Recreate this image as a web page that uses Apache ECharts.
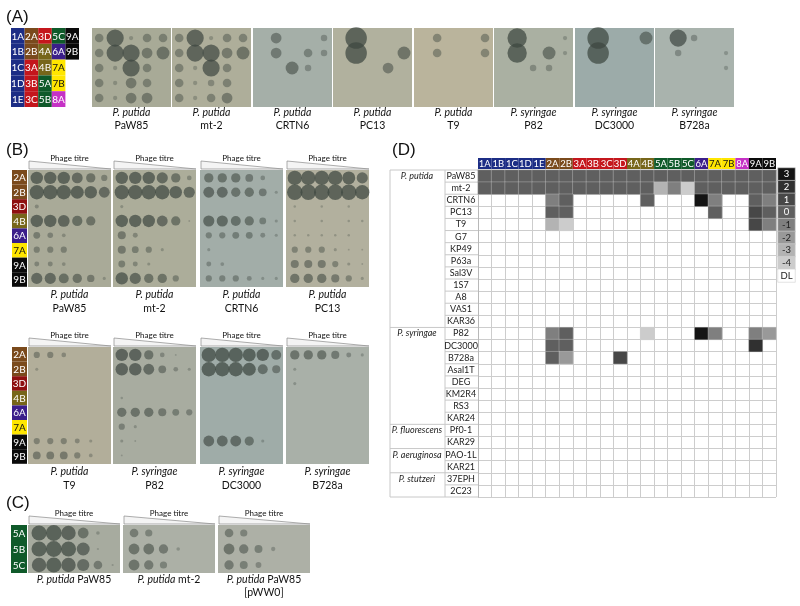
<!DOCTYPE html>
<html>
<head>
<meta charset="UTF-8">
<style>html,body{margin:0;padding:0;background:#fff}#main{width:800px;height:606px}</style>
</head>
<body>
<div id="main"></div>
<script src="https://cdn.jsdelivr.net/npm/echarts@6/dist/echarts.min.js"></script>
<script>
var n = null;
// ---- panel D data ----
var phages = ['1A','1B','1C','1D','1E','2A','2B','3A','3B','3C','3D','4A','4B','5A','5B','5C','6A','7A','7B','8A','9A','9B'];
var strains = ['PaW85','mt-2','CRTN6','PC13','T9','G7','KP49','P63a','Sal3V','1S7','A8','VAS1','KAR36',
  'P82','DC3000','B728a','Asal1T','DEG','KM2R4','RS3','KAR24','Pf0-1','KAR29','PAO-1L','KAR21','37EPH','2C23'];
var speciesNames = ['P. putida','P. syringae','P. fluorescens','P. aeruginosa','P. stutzeri'];
var speciesRows = [0,13,21,23,25];
var eopPaW85  = [0,0,0,0,0,0,0,0,0,0,0,0,0,0,0,0,0,0,0,0,0,0];
var eopMt2    = [0,0,0,0,0,0,0,0,0,0,0,0,0,-3,-1,-4,0,0,0,0,0,0];
var eopCRTN6  = [n,n,n,n,n,-1,0,n,n,n,n,n,0,n,n,n,3,-1,n,n,0,-1];
var eopPC13   = [n,n,n,n,n,0,0,n,n,n,n,n,n,n,n,n,n,0,n,n,1,0];
var eopT9     = [n,n,n,n,n,-3,-4,n,n,n,n,n,n,n,n,n,n,n,n,n,1,-1];
var eopP82    = [n,n,n,n,n,-1,0,n,n,n,n,n,-4,n,n,n,3,-1,n,n,-1,-2];
var eopDC3000 = [n,n,n,n,n,0,0,n,n,n,n,n,n,n,n,n,n,n,n,n,2,n];
var eopB728a  = [n,n,n,n,n,0,-2,n,n,n,1,n,n,n,n,n,n,n,n,n,n,n];
var eopByStrain = {'PaW85':eopPaW85,'mt-2':eopMt2,'CRTN6':eopCRTN6,'PC13':eopPC13,'T9':eopT9,'P82':eopP82,'DC3000':eopDC3000,'B728a':eopB728a};
var legendLabels = ['3','2','1','0','-1','-2','-3','-4','DL'];
var legendValues = [3,2,1,0,-1,-2,-3,-4,-5];
var levelColors  = ['#141414','#303030','#474747','#5f5f5f','#7f7f7f','#999999','#b3b3b3','#cccccc','#ffffff'];

// ---- panel A data ----
var keyA = [['1A','2A','3D','5C','9A'],['1B','2B','4A','6A','9B'],['1C','3A','4B','7A',''],['1D','3B','5A','7B',''],['1E','3C','5B','8A','']];
var plateA = ['PaW85','mt-2','CRTN6','PC13','T9','P82','DC3000','B728a'];
var plateASpecies = ['P. putida','P. putida','P. putida','P. putida','P. putida','P. syringae','P. syringae','P. syringae'];
var plateABg = ['#a8aa97','#aeae9a','#a5afa8','#b1b19e','#bab49c','#aab0a2','#9caba9','#a9b3ad'];
var spotsA = [
  [[2,4,1,2,2],[2,4,4,2.5,3],[2,1,4,2,0],[2,1,2.5,2,0],[2,1,2.5,2.5,0]],
  [[2,4,1,2,2],[2,4,4,2.5,3],[2,1,4,2,0],[2,1,1.5,2,0],[2,1,2,2.5,0]],
  [[0,2.5,0,0,1.5],[0,2.5,0,2,1.5],[0,0,3,1.5,0],[0,0,0,0,0],[0,0,0,0,0]],
  [[0,5,0,0,0],[0,5,0,0,3],[0,0,0,2.5,0],[0,0,0,0,0],[0,0,0,0,0]],
  [[0,2,0,0,2],[0,2,0,0,2],[0,0,0,0,0],[0,0,0,0,0],[0,0,0,0,0]],
  [[0,4.5,0,0,1],[0,4.5,0,3,1],[0,0,1.5,1.5,0],[0,0,0,0,0],[0,0,0,0,0]],
  [[0,5,0,0,3],[0,5,0,0,0],[0,0,0,0,0],[0,0,0,0,0],[0,0,0,0,0]],
  [[0,4,1.5,0,0],[0,1.5,0,0,1],[0,0,0,0,1],[0,0,0,0,0],[0,0,0,0,0]]
];

// ---- panel B data ----
var keyB = ['2A','2B','3D','4B','6A','7A','9A','9B'];
var plateB = ['PaW85','mt-2','CRTN6','PC13','T9','P82','DC3000','B728a'];
var plateBSpecies = ['P. putida','P. putida','P. putida','P. putida','P. putida','P. syringae','P. syringae','P. syringae'];
var plateBBg = ['#a9aa98','#acad9a','#a2ada8','#b2b09e','#b2ae9a','#a8aca0','#9faca8','#a9b0a8'];
var z6 = [0,0,0,0,0,0];
var spotsB = [
  [[4,4,4,3.5,3,2],[4.6,4.6,4.6,4.2,4,3.5],[1.3,0,0,0,0,0],[4,4,3.8,3.3,3,0],[2.2,1.8,1.2,0,0,0],[2,2,2,0,0,0],[1.6,1.6,1.2,0,0,0],[3.6,3.6,3.2,3,2.4,1]],
  [[4,4,4,3.6,3,1.5],[4.6,4.6,4.6,4.6,4,3.6],[1,0,0,0,0,0],[4,4,4,3.5,3,0.6],[2.6,1.6,0,0,0,0],[2.6,2.2,2,1,0,0],[2.2,1.6,1,0,0,0],[4,3.6,3,3,2,0]],
  [[3,3,3,2.5,1.5,0],[3.5,3.5,3,3,2.5,1],z6,[3.6,3.6,3.2,3,2.2,1],[2,2,2.2,2.2,1.6,1],[1,0,0,0,0,0],[1.6,1.2,0,0,0,0],[2,2,2,1.6,1,1]],
  [[4.6,4.6,4.6,4.6,4.2,3.6],[5,5,5,5,5,4.6],[0.8,0,0.8,0,0.8,0],[0.8,0,0.8,0,0.8,0.8],[0.8,0.8,0.8,0.8,0.8,0],[2,2,2,1,0.6,0.6],[2.6,2.6,2.6,2,1,0.6],[3,3,3,2.6,2,1]],
  [[2,2,1.5,0,0,0],[1,0,0,0,0,0],z6,z6,z6,z6,[2,2,2,1.6,1,0],[2.5,2.5,2.5,2,1.2,0]],
  [[4,4,3,1.5,0.6,0],[4,4,3.5,2.5,1.5,1],z6,[0.8,0,0,0,0,0],[3,3,3,2.6,2.2,2],[2,1,0,0,0,0],[1,0.6,0,0,0,0],[0.6,0,0,0,0,0]],
  [[4.6,4.6,4.6,4.2,4,3.2],[4.6,4.6,4.6,4.2,3.2,2.6],z6,z6,z6,z6,[3.5,3.5,3.5,3,1,0],z6],
  [[3,3,3,2.6,1.6,1],[1,0,0,0,0,0],[1,0,0,0,0,0],z6,z6,z6,z6,z6]
];

// ---- panel C data ----
var keyC = ['5A','5B','5C'];
var plateC = ['PaW85','mt-2','PaW85'];
var plateCBg = ['#a7ab9f','#acb0a6','#adb0a6'];
var spotsC = [
  [[4.2,4.4,4,3,1,0],[4.2,4.4,4.2,3.6,0.6,0],[4,4.2,4,3.4,2.4,0.6]],
  [[2.4,2,0,0,0,0],[3,3,2.6,1,0,0],[3,2.6,2,0,0,0]],
  [[2.4,2,0,0,0,0],[3,2.6,2.2,1.2,0,0],[2.6,2.2,1.6,0,0,0]]
];

var groupColors = {'1':'#1c2d85','2':'#7a4a1c','3':'#c4161c','4':'#77661a','5':'#0f5a2a','6':'#3b1e8a','7':'#ffe600','8':'#c531c5','9':'#0a0a0a'};
var groupText = function (g) { return g === '7' ? '#111' : '#fff'; };
var FONT = 'Lato';

var chart = echarts.init(document.getElementById('main'));
var grids = [], xAxes = [], yAxes = [], series = [], graphics = [];

function text(x, y, str, opt) {
  opt = opt || {};
  graphics.push({type:'text', x:x, y:y, silent:true, style:{text:str, fontFamily:opt.font || FONT,
    fontSize:opt.size || 10.5, fontStyle:opt.italic ? 'italic' : 'normal', fill:opt.color || '#111',
    align:opt.align || 'center', verticalAlign:'middle', rich:opt.rich}});
}
function rect(x, y, w, h, fill, stroke) {
  graphics.push({type:'rect', silent:true, shape:{x:x, y:y, width:w, height:h},
    style:{fill:fill, stroke:stroke || null, lineWidth:stroke ? 0.6 : 0}});
}
function line(x1, y1, x2, y2, color) {
  graphics.push({type:'line', silent:true, shape:{x1:x1, y1:y1, x2:x2, y2:y2}, style:{stroke:color || '#c8c8c8', lineWidth:1}});
}
function keyCell(x, y, w, h, label, dark3) {
  if (!label) return;
  var g = label[0];
  var c = (dark3 && label === '3D') ? '#8e1010' : groupColors[g];
  rect(x, y, w, h, c);
  text(x + w / 2, y + h / 2 + 0.5, label, {size:10, color:groupText(g)});
}
function addPlate(box, xr, yr, spots, bg, scale) {
  var g = grids.length;
  grids.push({left:box[0], top:box[1], width:box[2], height:box[3], show:true, backgroundColor:bg, borderWidth:0});
  xAxes.push({type:'value', gridIndex:g, min:xr[0], max:xr[1], show:false});
  yAxes.push({type:'value', gridIndex:g, min:yr[0], max:yr[1], inverse:true, show:false});
  var data = [];
  spots.forEach(function (row, r) {
    row.forEach(function (s, c) {
      if (s > 0) data.push({value:[c, r, s], itemStyle:{opacity:Math.min(0.72, 0.18 + 0.13 * s)}});
    });
  });
  series.push({type:'scatter', xAxisIndex:g, yAxisIndex:g, silent:true, data:data,
    symbolSize:function (d) { return d[2] * scale; }, itemStyle:{color:'#3d4640'}});
}
function titre(x, top, w) {
  text(x + w / 2, top - 12, 'Phage titre', {size:8});
  graphics.push({type:'polygon', silent:true, shape:{points:[[x + 1, top - 9], [x + w, top - 1], [x + 1, top - 1]]},
    style:{fill:'#f4f4f4', stroke:'#8a8a8a', lineWidth:0.7}});
}

// ---- panel labels ----
text(6, 17, '(A)', {size:17, align:'left', font:'Liberation Sans'});
text(6, 150, '(B)', {size:17, align:'left', font:'Liberation Sans'});
text(6, 503, '(C)', {size:17, align:'left', font:'Liberation Sans'});
text(392, 150, '(D)', {size:17, align:'left', font:'Liberation Sans'});

// ---- panel A ----
keyA.forEach(function (row, r) {
  row.forEach(function (lab, c) { keyCell(11 + c * 13.6, 28 + r * 15.8, 13.6, 15.8, lab, false); });
});
var aLefts = [92, 172, 253, 333, 414, 494, 575, 655];
plateA.forEach(function (name, i) {
  addPlate([aLefts[i], 28, 79, 79], [-0.45, 4.5], [-0.67, 4.6], spotsA[i], plateABg[i], 4.3);
  text(aLefts[i] + 39.5, 113, plateASpecies[i], {italic:true});
  text(aLefts[i] + 39.5, 126, name);
});

// ---- panel B ----
var bLefts = [28, 113, 200, 286];
var bTops = [170, 347];
plateB.forEach(function (name, i) {
  var left = bLefts[i % 4], top = bTops[Math.floor(i / 4)];
  addPlate([left, top, 83, 117], [-0.65, 5.5], [-0.55, 7.6], spotsB[i], plateBBg[i], 3.1);
  titre(left, top, 83);
  text(left + 41.5, top + 125, plateBSpecies[i], {italic:true});
  text(left + 41.5, top + 139, name);
});
bTops.forEach(function (top) {
  keyB.forEach(function (lab, r) { keyCell(12, top + r * 14.6, 15, 14.6, lab, true); });
});

// ---- panel C ----
var cLefts = [28, 123, 218];
plateC.forEach(function (name, i) {
  addPlate([cLefts[i], 525, 92, 48], [-0.75, 5.5], [-0.5, 2.5], spotsC[i], plateCBg[i], 3.6);
  titre(cLefts[i], 525, 92);
  text(cLefts[i] + 46, 580, '{i|P. putida} ' + name, {rich:{i:{fontStyle:'italic', fontFamily:FONT, fontSize:10.5}}});
});
text(cLefts[2] + 46, 593, '[pWW0]');
keyC.forEach(function (lab, r) { keyCell(11, 525 + r * 16, 16, 16, lab, false); });

// ---- panel D heatmap ----
var hg = grids.length;
var HL = 478, HT = 170, HW = 298, HH = 327;
grids.push({left:HL, top:HT, width:HW, height:HH});
var rich = {};
Object.keys(groupColors).forEach(function (g) {
  rich['g' + g] = {backgroundColor:groupColors[g], color:groupText(g), width:13.55, height:11, lineHeight:11,
    align:'center', fontSize:9.5, fontFamily:FONT};
});
xAxes.push({type:'category', gridIndex:hg, data:phages, position:'top',
  axisLine:{show:true, lineStyle:{color:'#b8b8b8'}}, axisTick:{show:false},
  splitLine:{show:true, interval:0, lineStyle:{color:'#cdcdcd'}},
  axisLabel:{interval:0, margin:1, formatter:function (v) { return '{g' + v[0] + '|' + v + '}'; }, rich:rich}});
yAxes.push({type:'category', gridIndex:hg, data:strains, inverse:true,
  axisLine:{show:true, lineStyle:{color:'#b8b8b8'}}, axisTick:{show:false},
  splitLine:{show:true, interval:0, lineStyle:{color:'#cdcdcd'}},
  axisLabel:{interval:0, margin:17, align:'center', fontSize:9, color:'#222', fontFamily:FONT}});
var speciesCol = strains.map(function (s, i) { var k = speciesRows.indexOf(i); return k >= 0 ? speciesNames[k] : ''; });
yAxes.push({type:'category', gridIndex:hg, data:speciesCol, inverse:true, position:'left',
  axisLine:{show:false}, axisTick:{show:false}, splitLine:{show:false},
  axisLabel:{interval:0, margin:61, align:'center', fontSize:9, fontStyle:'italic', color:'#222', fontFamily:FONT}});
var heatData = [];
strains.forEach(function (s, i) {
  var row = eopByStrain[s];
  if (!row) return;
  row.forEach(function (v, j) { if (v !== null) heatData.push([j, i, v]); });
});
var heatIdx = series.length;
series.push({type:'heatmap', xAxisIndex:hg, yAxisIndex:yAxes.length - 2, data:heatData, silent:true,
  itemStyle:{borderColor:'rgba(210,210,210,0.35)', borderWidth:1}});

// legend as a one-column heatmap
var lg = grids.length;
grids.push({left:778, top:168, width:17, height:114});
xAxes.push({type:'category', gridIndex:lg, data:['L'], show:false});
yAxes.push({type:'category', gridIndex:lg, data:legendLabels, inverse:true, show:false});
var legIdx = series.length;
series.push({type:'heatmap', xAxisIndex:xAxes.length - 1, yAxisIndex:yAxes.length - 1, silent:true,
  data:legendLabels.map(function (lab, i) {
    return {name:lab, value:[0, i, legendValues[i]], label:{color:legendValues[i] >= 0 ? '#fff' : '#222'}};
  }),
  itemStyle:{borderColor:'#d0d0d0', borderWidth:0.6},
  label:{show:true, formatter:'{b}', fontSize:9.5, fontFamily:FONT}});

// table lines of the label columns
var rh = HH / strains.length;
var groupEnds = [0, 13, 21, 23, 25, 27];
for (var k = 0; k <= strains.length; k++) {
  var x0 = groupEnds.indexOf(k) >= 0 ? 390 : 445;
  line(x0, HT + k * rh, HL, HT + k * rh);
}
line(390, HT, 390, HT + HH);
line(445, HT, 445, HT + HH);

chart.setOption({
  animation:false,
  textStyle:{fontFamily:FONT},
  grid:grids, xAxis:xAxes, yAxis:yAxes, series:series,
  visualMap:{type:'piecewise', show:false, dimension:2, seriesIndex:[heatIdx, legIdx],
    pieces:legendValues.map(function (v, i) { return {value:v, color:levelColors[i]}; })},
  graphic:graphics
});
</script>
</body>
</html>
